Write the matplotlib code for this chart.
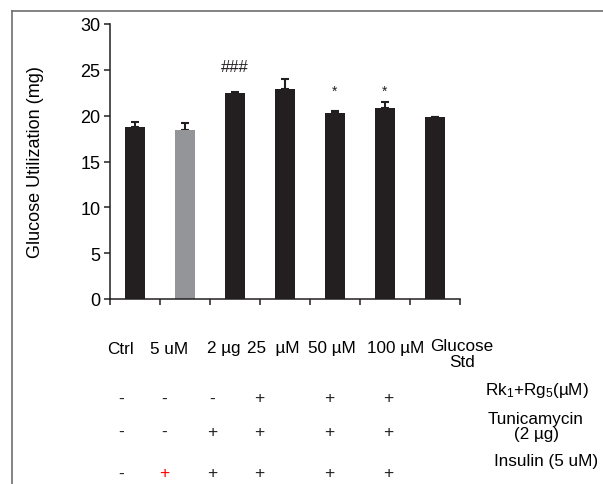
import matplotlib
matplotlib.use('Agg')
import matplotlib.pyplot as plt
from matplotlib.lines import Line2D
import numpy as np

plt.rcParams['font.family'] = ['Liberation Sans', 'DejaVu Sans']
plt.rcParams['mathtext.fontset'] = 'custom'
plt.rcParams['mathtext.rm'] = 'Liberation Sans'
plt.rcParams['mathtext.it'] = 'Liberation Sans:italic'

W, H = 603, 485

# data
groups = ['Ctrl', '5 uM', '2 µg', '25  µM', '50 µM', '100 µM', 'Glucose\nStd']
means = [18.75, 18.45, 22.45, 22.9, 20.25, 20.8, 19.9]
errs = [0.55, 0.7, 0.15, 1.05, 0.3, 0.65, 0.0]
colors = ['#231f20', '#939598', '#231f20', '#231f20', '#231f20', '#231f20', '#231f20']
marks = {2: '###', 4: '*', 5: '*'}
mark_y = {2: 25.4, 4: 22.7, 5: 22.7}

row_names = ['Rk$_1$+Rg$_5$(µM)', 'Tunicamycin\n(2 µg)', 'Insulin (5 uM)']
row_rk = ['-', '-', '-', '+', '+', '+']
row_tun = ['-', '-', '+', '+', '+', '+']
row_ins = ['-', '+', '+', '+', '+', '+']

# pixel layout helpers
def fx(px):
    return px / W

def fy(py):
    return 1 - py / H


fig = plt.figure(figsize=(W / 100, H / 100), dpi=100)
ax = fig.add_axes([fx(110), fy(300), fx(460) - fx(110), fy(25) - fy(300)])

x = np.arange(len(means))
ax.bar(x, means, width=0.4, color=colors, zorder=2)
ax.errorbar(x, means, yerr=[np.zeros(len(errs)), errs], fmt='none',
            ecolor='#231f20', elinewidth=1.5, capsize=3, capthick=1.5, zorder=1)
for i, s in marks.items():
    ax.text(x[i], mark_y[i], s, ha='center', va='center',
            fontsize=12 if s == '###' else 10, color='#231f20')

ax.set_xlim(-0.5, len(means) - 0.5)
ax.set_ylim(0, 30)
ax.set_yticks(range(0, 31, 5))
ax.set_xticks(np.arange(-0.5, len(means), 1))
ax.set_xticklabels([])
for s in ['top', 'right']:
    ax.spines[s].set_visible(False)
for s in ['left', 'bottom']:
    ax.spines[s].set_linewidth(1.1)
    ax.spines[s].set_color('#231f20')
ax.tick_params(direction='out', length=4, width=1.1, color='#231f20',
               labelsize=13, pad=3)
ax.set_ylabel('Glucose Utilization (mg)', fontsize=13, labelpad=26)

# category labels below the axis
cat_x = [120, 169, 224, 273, 332, 396, 462]
for cx, g in zip(cat_x, groups):
    if '\n' in g:
        fig.text(fx(cx), fy(339), g, ha='center', va='top', fontsize=12.3,
                 linespacing=1.08)
    else:
        fig.text(fx(cx), fy(349), g, ha='center', va='center', fontsize=12.3)

# treatment table
sym_x = [121, 164, 212, 259, 329, 388]
rows = [(row_rk, 399), (row_tun, 432), (row_ins, 474)]
for vals, ry in rows:
    for j, (sx, v) in enumerate(zip(sym_x, vals)):
        c = 'red' if (vals is row_ins and j == 1) else '#231f20'
        fig.text(fx(sx), fy(ry), v, ha='center', va='center', fontsize=12.5, color=c)

fig.text(fx(537), fy(390), row_names[0], ha='center', va='center', fontsize=12.3)
fig.text(fx(536), fy(427), row_names[1], ha='center', va='center', fontsize=12.3,
         linespacing=0.95)
fig.text(fx(546), fy(462), row_names[2], ha='center', va='center', fontsize=12.3)

# outer frame (only top and left edges visible)
fig.add_artist(Line2D([fx(12), 1], [fy(12), fy(12)], color='#6d6e71', lw=1.2))
fig.add_artist(Line2D([fx(12), fx(12)], [fy(12), 0], color='#6d6e71', lw=1.2))

fig.savefig('out.png', dpi=100)
